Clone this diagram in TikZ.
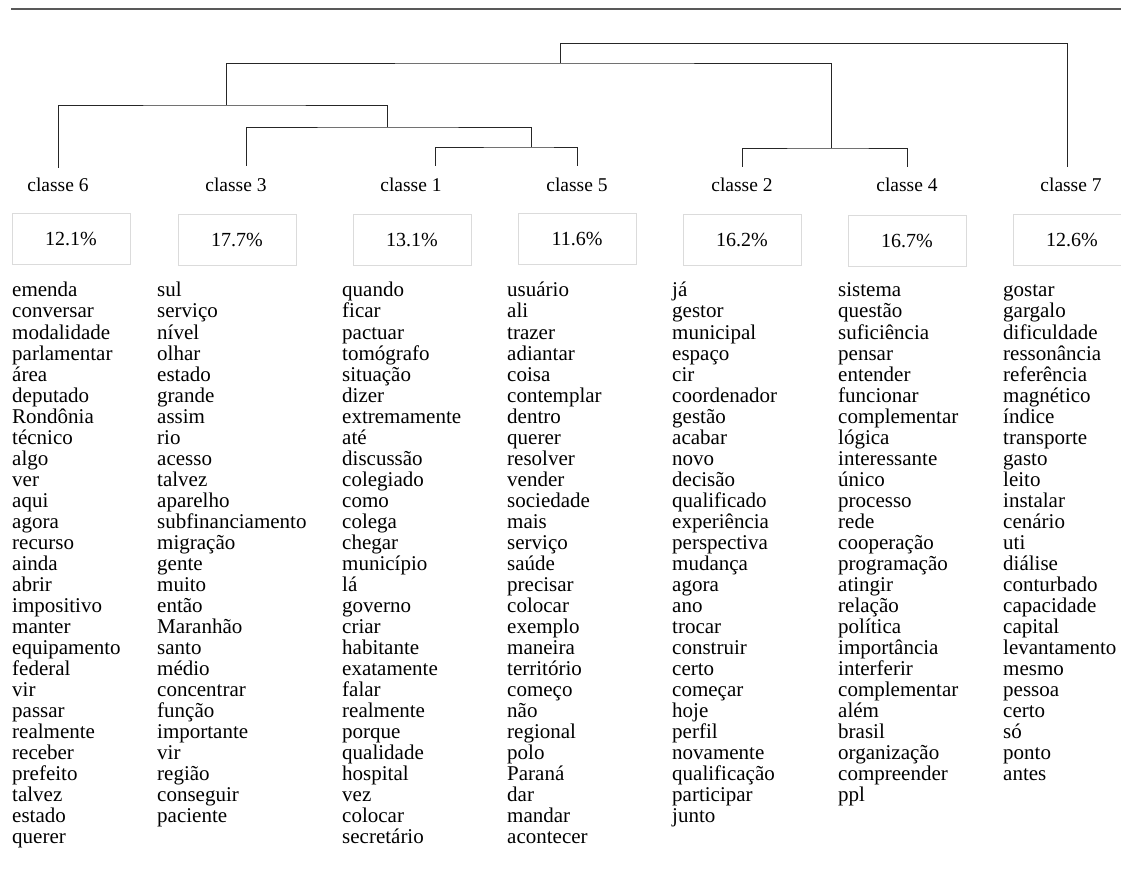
\documentclass[tikz,border=0pt]{standalone}
\usepackage{fontspec}
\setmainfont{Liberation Serif}
\usepackage{xcolor}
\usepackage{tikz}
\usetikzlibrary{positioning,calc}

\begin{document}
\begin{tikzpicture}[
  x=1pt, y=-1pt,
  rule/.style={draw=black!65, line width=1.1pt},
  link/.style={draw=black!85, line width=0.9pt},
  cls/.style={font=\fontsize{19.5}{21}\selectfont, inner sep=0pt, anchor=base},
  pct/.style={rectangle, draw=black!14, line width=0.9pt, minimum width=118pt,
             minimum height=51pt, inner sep=0pt, font=\fontsize{20}{21}\selectfont},
  word/.style={font=\fontsize{21}{21}\selectfont, inner sep=0pt, anchor=base west},
]
\useasboundingbox (0,0) rectangle (1121,882);

% --- top rule ---
\coordinate (rl) at (11,9);
\coordinate (rr) at (1121,9);
\draw[rule] (rl) -- (rr);

% --- class labels ---
\node[cls] (l6) at (58,192)   {classe 6};
\node[cls] (l3) at (236,192)  {classe 3};
\node[cls] (l1) at (411,192)  {classe 1};
\node[cls] (l5) at (577,192)  {classe 5};
\node[cls] (l2) at (742,192)  {classe 2};
\node[cls] (l4) at (907,192)  {classe 4};
\node[cls] (l7) at (1071,192) {classe 7};

% --- percentages ---
\node[pct] (p6) at (71,239)   {12.1\%};
\node[pct] (p3) at (237,240)  {17.7\%};
\node[pct] (p1) at (412,240)  {13.1\%};
\node[pct] (p5) at (577,239)  {11.6\%};
\node[pct] (p2) at (742,240)  {16.2\%};
\node[pct] (p4) at (907,241)  {16.7\%};
\node[pct] (p7) at (1072,240) {12.6\%};

% --- dendrogram ---
\coordinate (t6) at (58,168);
\coordinate (t3) at (246,166);
\coordinate (t1) at (435,166);
\coordinate (t5) at (577,166);
\coordinate (t2) at (742,167);
\coordinate (t4) at (907,167);
\coordinate (t7) at (1067,167);
\coordinate (jD) at (531,147);
\coordinate (jC) at (387,127);
\coordinate (jB) at (226,105);
\coordinate (jE) at (831,148);
\coordinate (jA) at (560,63);
\coordinate (jR) at (560,43);
\draw[link] (t1) |- (jD) -| (t5);
\draw[link] (t3) |- (jC) -| (jD);
\draw[link] (t6) |- (jB) -| (jC);
\draw[link] (t2) |- (jE) -| (t4);
\draw[link] (jB) |- (jA) -| (jE);
\draw[link] (jA) -- (jR) -| (t7);

% --- word lists ---
\foreach \w [count=\i from 0] in {emenda, conversar, modalidade, parlamentar, área,
  deputado, Rondônia, técnico, algo, ver, aqui, agora, recurso, ainda, abrir,
  impositivo, manter, equipamento, federal, vir, passar, realmente, receber,
  prefeito, talvez, estado, querer}
  \node[word] (w6-\i) at (12,{297+21*\i}) {\w};
\foreach \w [count=\i from 0] in {sul, serviço, nível, olhar, estado, grande, assim,
  rio, acesso, talvez, aparelho, subfinanciamento, migração, gente, muito, então,
  Maranhão, santo, médio, concentrar, função, importante, vir, região, conseguir,
  paciente}
  \node[word] (w3-\i) at (157,{297+21*\i}) {\w};
\foreach \w [count=\i from 0] in {quando, ficar, pactuar, tomógrafo, situação, dizer,
  extremamente, até, discussão, colegiado, como, colega, chegar, município, lá,
  governo, criar, habitante, exatamente, falar, realmente, porque, qualidade,
  hospital, vez, colocar, secretário}
  \node[word] (w1-\i) at (342,{297+21*\i}) {\w};
\foreach \w [count=\i from 0] in {usuário, ali, trazer, adiantar, coisa, contemplar,
  dentro, querer, resolver, vender, sociedade, mais, serviço, saúde, precisar,
  colocar, exemplo, maneira, território, começo, não, regional, polo, Paraná, dar,
  mandar, acontecer}
  \node[word] (w5-\i) at (507,{297+21*\i}) {\w};
\foreach \w [count=\i from 0] in {já, gestor, municipal, espaço, cir, coordenador,
  gestão, acabar, novo, decisão, qualificado, experiência, perspectiva, mudança,
  agora, ano, trocar, construir, certo, começar, hoje, perfil, novamente,
  qualificação, participar, junto}
  \node[word] (w2-\i) at (672,{297+21*\i}) {\w};
\foreach \w [count=\i from 0] in {sistema, questão, suficiência, pensar, entender,
  funcionar, complementar, lógica, interessante, único, processo, rede, cooperação,
  programação, atingir, relação, política, importância, interferir, complementar,
  além, brasil, organização, compreender, ppl}
  \node[word] (w4-\i) at (838,{297+21*\i}) {\w};
\foreach \w [count=\i from 0] in {gostar, gargalo, dificuldade, ressonância,
  referência, magnético, índice, transporte, gasto, leito, instalar, cenário, uti,
  diálise, conturbado, capacidade, capital, levantamento, mesmo, pessoa, certo, só,
  ponto, antes}
  \node[word] (w7-\i) at (1003,{297+21*\i}) {\w};

\end{tikzpicture}
\end{document}
